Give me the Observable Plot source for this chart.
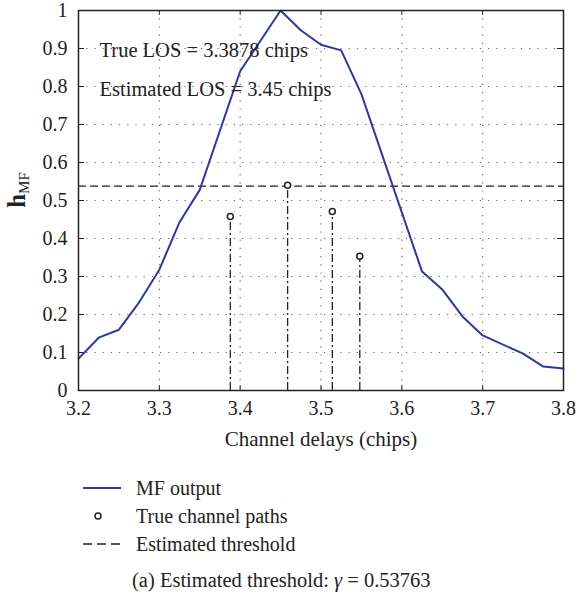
<!DOCTYPE html>
<html>
<head>
<meta charset="utf-8">
<script src="https://cdn.jsdelivr.net/npm/d3@7"></script>
<script src="https://cdn.jsdelivr.net/npm/@observablehq/plot@0.6"></script>
<style>
  body { margin: 0; background: #fff; font-family: "Liberation Serif", "DejaVu Serif", serif; color: #222; }
  #chart svg { display: block; }
  .legend { position: relative; height: 136px; font-size: 20px; }
  .legend .row { position: absolute; left: 83px; display: flex; align-items: center; line-height: 20px; }
  .legend .row span { margin-left: 15px; }
  .caption { position: absolute; left: 132px; top: 109px; font-size: 20.5px; }
</style>
</head>
<body>
<div id="chart"></div>
<div class="legend" id="legend"></div>
<script>
// MF output (channel delay in chips, normalized MF output)
const mfDelay = [3.2, 3.225, 3.25, 3.275, 3.3, 3.325, 3.35, 3.4, 3.45, 3.475, 3.5, 3.525, 3.55, 3.625, 3.65, 3.675, 3.7, 3.75, 3.775, 3.8];
const mfValue = [0.084, 0.139, 0.160, 0.232, 0.318, 0.443, 0.528, 0.840, 1.0, 0.948, 0.910, 0.895, 0.780, 0.313, 0.266, 0.195, 0.145, 0.097, 0.063, 0.058];
// True channel paths
const pathDelay = [3.3878, 3.4587, 3.514, 3.548];
const pathGain = [0.458, 0.540, 0.471, 0.353];
// Estimated threshold
const threshold = 0.53763;
const xTicks = [3.2, 3.3, 3.4, 3.5, 3.6, 3.7, 3.8];
const yTicks = [0, 0.1, 0.2, 0.3, 0.4, 0.5, 0.6, 0.7, 0.8, 0.9, 1];
const annotations = ["True LOS = 3.3878 chips", "Estimated LOS = 3.45 chips"];
const lineColor = "#2c3a9c";

const mf = mfDelay.map((d, i) => ({x: d, y: mfValue[i]}));
const paths = pathDelay.map((d, i) => ({x: d, y: pathGain[i]}));
const yFmt = d => d === 0 ? "0" : d === 1 ? "1" : d.toFixed(1);

const chart = Plot.plot({
  width: 578,
  height: 460,
  marginLeft: 78,
  marginRight: 15,
  marginTop: 10,
  marginBottom: 70,
  style: {fontFamily: "Liberation Serif, DejaVu Serif, serif", fontSize: "20px", color: "#222", background: "#fff"},
  x: {domain: [3.2, 3.8], ticks: xTicks, tickFormat: d => d.toFixed(1)},
  y: {domain: [0, 1], ticks: yTicks, tickFormat: yFmt},
  marks: [
    // dotted grid
    Plot.ruleX(xTicks.slice(1, -1), {stroke: "#666", strokeWidth: 1.2, strokeDasharray: "1.2,7"}),
    Plot.ruleY(yTicks.slice(1, -1), {stroke: "#666", strokeWidth: 1.2, strokeDasharray: "1.2,7"}),
    // inward ticks
    Plot.ruleX(xTicks, {y1: 0, y2: 0.013, stroke: "#222"}),
    Plot.ruleX(xTicks, {y1: 0.987, y2: 1, stroke: "#222"}),
    Plot.ruleY(yTicks, {x1: 3.2, x2: 3.2075, stroke: "#222"}),
    Plot.ruleY(yTicks, {x1: 3.7925, x2: 3.8, stroke: "#222"}),
    // threshold
    Plot.ruleY([threshold], {stroke: "#222", strokeWidth: 1.3, strokeDasharray: "8,4"}),
    // stems
    Plot.ruleX(paths, {x: "x", y1: 0, y2: "y", stroke: "#222", strokeWidth: 1.3, strokeDasharray: "8,3,2,3"}),
    Plot.dot(paths, {x: "x", y: "y", r: 3, stroke: "#222", fill: "#fff", strokeWidth: 1.5}),
    // MF output
    Plot.line(mf, {x: "x", y: "y", stroke: lineColor, strokeWidth: 2}),
    Plot.frame({stroke: "#222", strokeWidth: 1.5}),
    Plot.axisX({ticks: xTicks, tickSize: 0, tickPadding: 10, fontSize: 20, label: null, tickFormat: d => d.toFixed(1)}),
    Plot.axisY({ticks: yTicks, tickSize: 0, tickPadding: 11, fontSize: 20, label: null, tickFormat: yFmt}),
    Plot.text([annotations[0]], {frameAnchor: "top-left", lineAnchor: "middle", dx: 21, dy: 40, fontSize: 20.5, fill: "#222", textAnchor: "start"}),
    Plot.text([annotations[1]], {frameAnchor: "top-left", lineAnchor: "middle", dx: 21, dy: 79, fontSize: 20.5, fill: "#222", textAnchor: "start"}),
    Plot.text(["Channel delays (chips)"], {frameAnchor: "bottom", lineAnchor: "middle", dy: 49, fontSize: 21, fill: "#222"})
  ]
});

// y axis label h_MF (bold h, subscript MF)
const svg = d3.select(chart);
const yl = svg.append("text")
  .attr("transform", "translate(25,190) rotate(-90)")
  .attr("text-anchor", "middle")
  .attr("fill", "#222")
  .style("font-family", "Liberation Serif, DejaVu Serif, serif");
yl.append("tspan").attr("font-weight", "bold").attr("font-size", 25).text("h");
yl.append("tspan").attr("font-size", 15).attr("dy", 4).text("MF");

document.getElementById("chart").appendChild(chart);

// legend
const legend = document.getElementById("legend");
const items = [
  {label: "MF output", svg: `<svg width="38" height="12"><line x1="0" y1="6" x2="38" y2="6" stroke="${lineColor}" stroke-width="2"/></svg>`, top: 18},
  {label: "True channel paths", svg: `<svg width="38" height="12"><circle cx="15" cy="6" r="3" stroke="#222" fill="#fff" stroke-width="1.5"/></svg>`, top: 46},
  {label: "Estimated threshold", svg: `<svg width="38" height="12"><line x1="0" y1="6" x2="38" y2="6" stroke="#222" stroke-width="1.3" stroke-dasharray="9,5"/></svg>`, top: 74}
];
for (const it of items) {
  const row = document.createElement("div");
  row.className = "row";
  row.style.top = it.top + "px";
  row.innerHTML = it.svg + `<span>${it.label}</span>`;
  legend.appendChild(row);
}
const cap = document.createElement("div");
cap.className = "caption";
cap.innerHTML = `(a) Estimated threshold: <i>γ</i> = ${threshold}`;
legend.appendChild(cap);
</script>
</body>
</html>
